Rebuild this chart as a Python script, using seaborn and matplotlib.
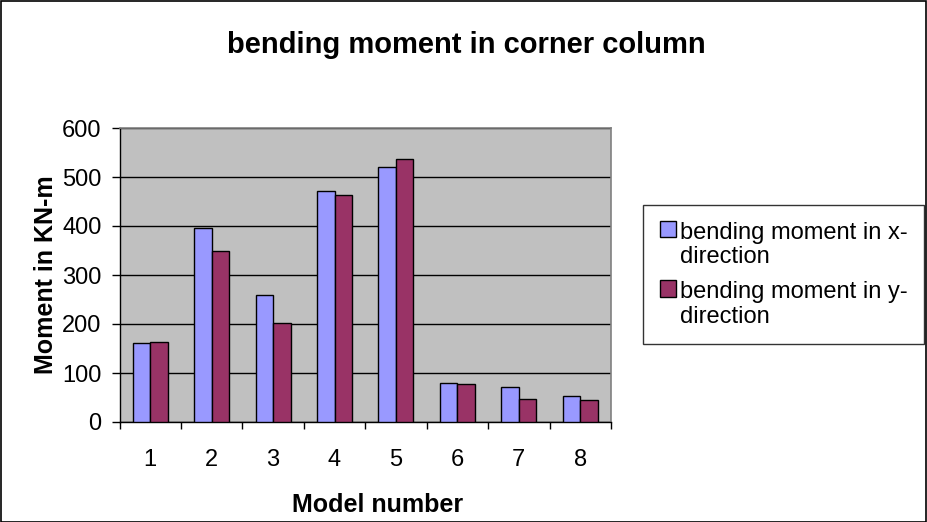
import matplotlib
matplotlib.use("Agg")
import matplotlib.pyplot as plt
import seaborn as sns
import pandas as pd
from matplotlib.patches import Rectangle
from matplotlib.legend_handler import HandlerPatch

models = ["1", "2", "3", "4", "5", "6", "7", "8"]
moment_x = [161, 396, 259, 471, 520, 80, 71, 53]
moment_y = [163, 350, 202, 463, 537, 78, 47, 45]
series_names = ["bending moment in x-\ndirection", "bending moment in y-\ndirection"]
colors = ["#9999FF", "#993366"]

df = pd.DataFrame({
    "Model": models * 2,
    "Moment": moment_x + moment_y,
    "Series": [series_names[0]] * len(models) + [series_names[1]] * len(models),
})

sns.set_theme(style="white", rc={
    "text.color": "black", "axes.labelcolor": "black",
    "xtick.color": "black", "ytick.color": "black",
})
plt.rcParams["font.family"] = ["Liberation Sans", "DejaVu Sans"]

fig = plt.figure(figsize=(9.27, 5.22), dpi=100)
ax = fig.add_axes([119.5 / 927, 100 / 522, 491.5 / 927, 294 / 522])
ax.set_facecolor("#C0C0C0")

sns.barplot(data=df, x="Model", y="Moment", hue="Series", palette=colors,
            saturation=1, width=0.57, edgecolor="black", linewidth=1, ax=ax,
            legend=True, zorder=3)

ax.set_ylim(0, 600)
ax.set_xlim(-0.5, 7.5)
ax.set_yticks(range(0, 601, 100))
ax.yaxis.grid(True, color="black", linewidth=1)
ax.set_axisbelow(True)
for s in ["top", "right"]:
    ax.spines[s].set_color("#808080")
    ax.spines[s].set_linewidth(1.2)
for s in ["left", "bottom"]:
    ax.spines[s].set_color("black")
    ax.spines[s].set_linewidth(1)

ax.tick_params(axis="y", which="major", left=True, length=6, width=1, color="black",
               labelsize=17, pad=7)
ax.tick_params(axis="x", which="major", bottom=True, length=0, labelsize=17, pad=19.5)
ax.set_xticks([i + 0.5 for i in range(-1, len(models))], minor=True)
ax.tick_params(axis="x", which="minor", bottom=True, length=5, width=1, color="black")

ax.set_xlabel("Model number", fontsize=18, fontweight="bold", labelpad=15.5)
ax.xaxis.label.set_x((378 - 119.5) / 491.5)
ax.set_ylabel("Moment in KN-m", fontsize=18, fontweight="bold", labelpad=3)

fig.text(466 / 927, 1 - 53 / 522, "bending moment in corner column",
         ha="center", va="baseline", fontsize=21, fontweight="bold")


def square(legend, orig_handle, xdescent, ydescent, width, height, fontsize):
    return Rectangle((-xdescent, -ydescent + 0.68 * fontsize), width, height)


handles, labels = ax.get_legend_handles_labels()
ax.get_legend().remove()
leg = fig.legend(handles, labels, loc="upper left",
                 bbox_to_anchor=(643 / 927, 1 - 205 / 522),
                 bbox_transform=fig.transFigure,
                 fontsize=17, frameon=True, fancybox=False,
                 edgecolor="black", handlelength=0.68, handleheight=0.68,
                 handletextpad=0.2, labelspacing=0.55, borderpad=0.7,
                 borderaxespad=0,
                 handler_map={Rectangle: HandlerPatch(patch_func=square)})
leg.get_frame().set_linewidth(1)
for t in leg.get_texts():
    t.set_linespacing(1.15)

fig.patches.append(Rectangle((0.5 / 927, 0.5 / 522), 1 - 1.5 / 927, 1 - 1.5 / 522,
                             transform=fig.transFigure, fill=False,
                             edgecolor="black", linewidth=1.2))

fig.savefig("out.png", dpi=100)
